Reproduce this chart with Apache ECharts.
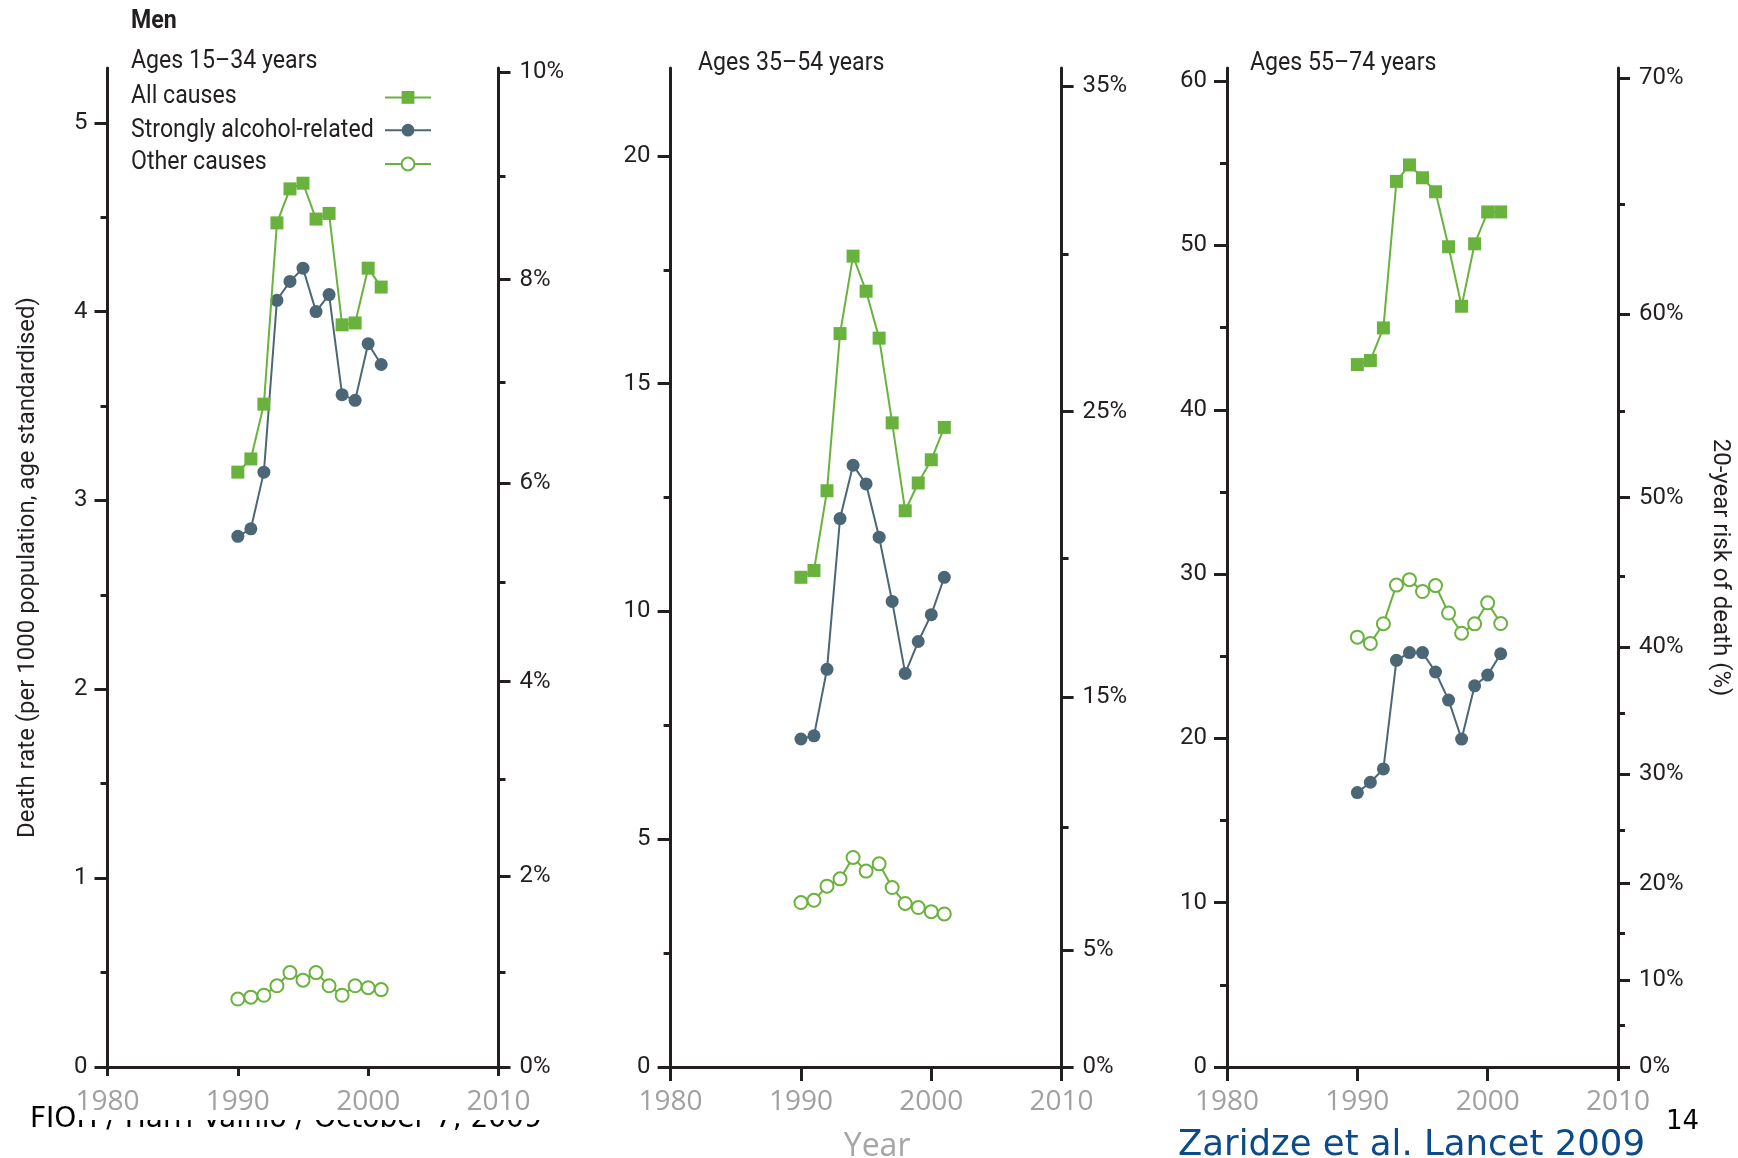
<!DOCTYPE html>
<html>
<head>
    <meta http-equiv="Content-Type" content="text/html; charset=utf-8" />
    <title>Men: death rates 1990-2001</title>
    <script src="https://cdn.jsdelivr.net/npm/echarts@6.0.0/dist/echarts.min.js"></script>
    <style>html, body { margin: 0; padding: 0; background: #fff; }</style>
</head>

<body>
    <div id="main" style="width:1738px;height:1158px"></div>

    <script type="text/javascript">
        var years = [1990, 1991, 1992, 1993, 1994, 1995, 1996, 1997, 1998, 1999, 2000, 2001];

        // ages 15-34
        var all1534 = [3.15, 3.22, 3.51, 4.47, 4.65, 4.68, 4.49, 4.52, 3.93, 3.94, 4.23, 4.13];
        var alc1534 = [2.81, 2.85, 3.15, 4.06, 4.16, 4.23, 4.00, 4.09, 3.56, 3.53, 3.83, 3.72];
        var oth1534 = [0.36, 0.37, 0.38, 0.43, 0.50, 0.46, 0.50, 0.43, 0.38, 0.43, 0.42, 0.41];

        // ages 35-54
        var all3554 = [10.75, 10.9, 12.65, 16.1, 17.8, 17.03, 16.0, 14.14, 12.21, 12.82, 13.33, 14.04];
        var alc3554 = [7.2, 7.27, 8.73, 12.04, 13.21, 12.8, 11.63, 10.22, 8.64, 9.34, 9.93, 10.75];
        var oth3554 = [3.61, 3.66, 3.97, 4.13, 4.6, 4.3, 4.46, 3.94, 3.59, 3.5, 3.41, 3.36];

        // ages 55-74
        var all5574 = [42.75, 43.0, 44.98, 53.9, 54.9, 54.12, 53.27, 49.92, 46.3, 50.1, 52.04, 52.04];
        var alc5574 = [16.7, 17.33, 18.14, 24.75, 25.22, 25.22, 24.04, 22.33, 19.96, 23.2, 23.85, 25.15];
        var oth5574 = [26.16, 25.78, 26.98, 29.33, 29.66, 28.94, 29.3, 27.63, 26.4, 26.97, 28.25, 26.99];

        var panelTitles = ['Ages 15\u201334 years', 'Ages 35\u201354 years', 'Ages 55\u201374 years'];
        var seriesNames = ['All causes', 'Strongly alcohol-related', 'Other causes'];

        // death rate axis (left)
        var rateMax = [5.29, 21.93, 60.8];
        var rateMajor = [[0, 1, 2, 3, 4, 5], [0, 5, 10, 15, 20], [0, 10, 20, 30, 40, 50, 60]];
        var rateMinor = [[0.5, 1.5, 2.5, 3.5, 4.5], [2.5, 7.5, 12.5, 17.5], [5, 15, 25, 35, 45, 55]];
        // 20-year risk axis (right), in %
        var riskMajor = [[0, 2, 4, 6, 8, 10], [0, 5, 15, 25, 35], [0, 10, 20, 30, 40, 50, 60, 70]];
        var riskMinor = [[1, 3, 5, 7, 9], [10, 20, 30], [5, 15, 25, 35, 45, 55, 65]];

        var panelData = [
            [all1534, alc1534, oth1534],
            [all3554, alc3554, oth3554],
            [all5574, alc5574, oth5574]
        ];

        var GREEN = '#6ab23e';
        var SLATE = '#4b6776';
        var INK = '#231f20';
        var SANS = 'Roboto, sans-serif';

        // 20-year risk p (%) <-> death rate per 1000 per year
        function riskToRate(p) { return -50 * Math.log(1 - p / 100); }
        function rateToRisk(r) { return Math.round(100 * (1 - Math.exp(-r / 50))); }

        var gridLeft = [107.5, 670.6, 1227];
        var grids = [], xAxes = [], yAxes = [], series = [];

        for (var i = 0; i < 3; i++) {
            grids.push({ left: gridLeft[i], top: 68, width: 391, height: 999, outerBoundsMode: 'none', containLabel: false });

            xAxes.push({
                type: 'value', gridIndex: i, min: 1980, max: 2010, interval: 10,
                name: i === 1 ? 'Year' : '',
                nameLocation: 'middle', nameGap: 64,
                nameTextStyle: { color: '#a6a6a6', fontSize: 32, fontFamily: 'Open Sans', padding: [0, 0, 0, 22] },
                axisLine: { onZero: false, lineStyle: { color: INK, width: 3 } },
                axisTick: { length: i === 0 ? 9 : 14, lineStyle: { color: INK, width: 3 } },
                axisLabel: {
                    margin: 21, color: '#a0a0a0', fontSize: 28, fontFamily: 'Open Sans',
                    formatter: function (v) { return String(v); }
                },
                splitLine: { show: false }
            });

            var majorRisk = riskMajor[i].map(riskToRate);
            var minorRisk = riskMinor[i].map(riskToRate);

            // left, labelled
            yAxes.push({
                type: 'value', gridIndex: i, position: 'left', min: 0, max: rateMax[i],
                name: i === 0 ? 'Death rate (per 1000 population, age standardised)' : '',
                nameLocation: 'middle', nameGap: 68, nameRotate: 90,
                nameTextStyle: { color: INK, fontSize: 24, fontFamily: SANS },
                axisLine: { show: true, onZero: false, lineStyle: { color: INK, width: 3 } },
                axisTick: { length: 13, customValues: rateMajor[i], lineStyle: { color: INK, width: 3 } },
                axisLabel: { margin: 20, customValues: rateMajor[i], color: INK, fontSize: 24, fontFamily: SANS },
                splitLine: { show: false }
            });
            // left, minor ticks
            yAxes.push({
                type: 'value', gridIndex: i, position: 'left', min: 0, max: rateMax[i],
                axisLine: { show: false },
                axisTick: { length: 7, customValues: rateMinor[i], lineStyle: { color: INK, width: 3 } },
                axisLabel: { show: false },
                splitLine: { show: false }
            });
            // right, labelled risk
            yAxes.push({
                type: 'value', gridIndex: i, position: 'right', min: 0, max: rateMax[i],
                name: i === 2 ? '20-year risk of death (%)' : '',
                nameLocation: 'middle', nameGap: 90, nameRotate: -90,
                nameTextStyle: { color: INK, fontSize: 24, fontFamily: SANS },
                axisLine: { show: true, onZero: false, lineStyle: { color: INK, width: 3 } },
                axisTick: { length: 12, customValues: majorRisk, lineStyle: { color: INK, width: 3 } },
                axisLabel: {
                    margin: 21, customValues: majorRisk, color: INK, fontSize: 24, fontFamily: SANS,
                    formatter: function (v) { return rateToRisk(v) + '%'; }
                },
                splitLine: { show: false }
            });
            // right, minor ticks
            yAxes.push({
                type: 'value', gridIndex: i, position: 'right', min: 0, max: rateMax[i],
                axisLine: { show: false },
                axisTick: { length: 7, customValues: minorRisk, lineStyle: { color: INK, width: 3 } },
                axisLabel: { show: false },
                splitLine: { show: false }
            });

            var d = panelData[i];
            function pts(arr) { return years.map(function (y, k) { return [y, arr[k]]; }); }
            series.push({
                type: 'line', name: seriesNames[2], xAxisIndex: i, yAxisIndex: i * 4,
                data: pts(d[2]), symbol: 'emptyCircle', symbolSize: 13,
                lineStyle: { color: GREEN, width: 2 },
                itemStyle: { color: GREEN, borderWidth: 2.5 }, z: 3
            });
            series.push({
                type: 'line', name: seriesNames[1], xAxisIndex: i, yAxisIndex: i * 4,
                data: pts(d[1]), symbol: 'circle', symbolSize: 13,
                lineStyle: { color: SLATE, width: 2 },
                itemStyle: { color: SLATE }, z: 4
            });
            series.push({
                type: 'line', name: seriesNames[0], xAxisIndex: i, yAxisIndex: i * 4,
                data: pts(d[0]), symbol: 'rect', symbolSize: 13,
                lineStyle: { color: GREEN, width: 2 },
                itemStyle: { color: GREEN }, z: 5
            });
        }

        function label(text, x, y, font, fill, extra) {
            var el = { type: 'text', x: x, y: y, style: { text: text, font: font, fill: fill, verticalAlign: 'middle' } };
            for (var k in (extra || {})) el[k] = extra[k];
            return el;
        }

        // the figure text is a condensed face; squeeze Roboto to the same width
        var ann = '26px ' + SANS;
        var narrow = { scaleX: 0.89 };
        var graphics = [
            label('Men', 131, 21, 'bold 26px ' + SANS, INK, narrow),
            label(panelTitles[0], 131, 61, ann, INK, narrow),
            label(panelTitles[1], 698, 63, ann, INK, narrow),
            label(panelTitles[2], 1250, 63, ann, INK, narrow),
            label(seriesNames[0], 131, 96, ann, INK, narrow),
            label(seriesNames[1], 131, 130, ann, INK, narrow),
            label(seriesNames[2], 131, 162, ann, INK, narrow),
            // footer text, partly hidden behind the chart's white area
            label('FIOH / Harri Vainio / October 7, 2009', 30, 1120, '28px "DejaVu Sans"', '#000', { z: -2 }),
            { type: 'rect', z: -1, shape: { x: 79, y: 1075, width: 485, height: 45 }, style: { fill: '#fff' } },
            label('14', 1666, 1122, '26px "DejaVu Sans"', '#000'),
            label('Zaridze et al. Lancet 2009', 1178, 1146, '35.5px "DejaVu Sans"', '#0b4a8b')
        ];

        var option = {
            animation: false,
            backgroundColor: '#fff',
            grid: grids,
            xAxis: xAxes,
            yAxis: yAxes,
            legend: {
                data: seriesNames,
                orient: 'vertical',
                left: 379, top: 86,
                itemWidth: 46, itemHeight: 16, itemGap: 20,
                selectedMode: false,
                formatter: function () { return ''; },
                textStyle: { fontSize: 10, lineHeight: 10 }
            },
            graphic: graphics,
            series: series
        };

        var myChart = echarts.init(document.getElementById('main'));
        myChart.setOption(option);
    </script>
</body>

</html>
